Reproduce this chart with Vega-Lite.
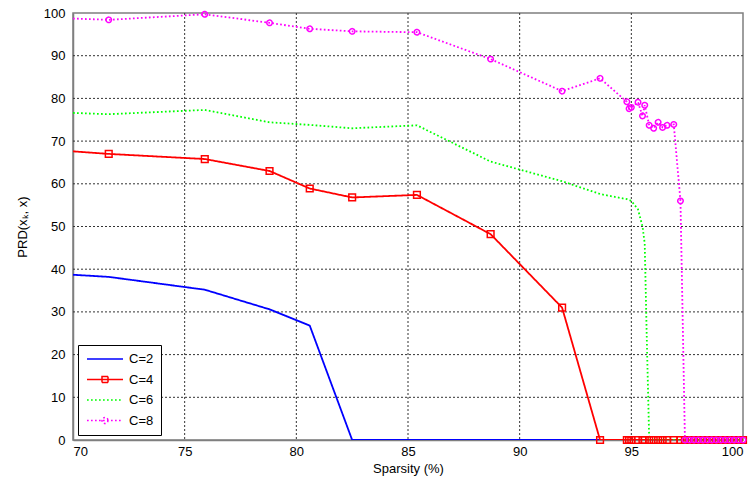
{
  "$schema": "https://vega.github.io/schema/vega-lite/v6.json",
  "width": 670,
  "height": 427,
  "autosize": {"type": "none"},
  "padding": {"left": 73, "top": 13, "right": 12, "bottom": 51},
  "background": "white",
  "datasets": {
    "gridx": [{"gx": 75}, {"gx": 80}, {"gx": 85}, {"gx": 90}, {"gx": 95}],
    "gridy": [{"gy": 10}, {"gy": 20}, {"gy": 30}, {"gy": 40}, {"gy": 50}, {"gy": 60}, {"gy": 70}, {"gy": 80}, {"gy": 90}],
    "prd": [
    {"s":"C=2","x":70,"y":38.7},{"s":"C=2","x":71.6,"y":38.2},{"s":"C=2","x":75.9,"y":35.2},{"s":"C=2","x":78.8,"y":30.6},{"s":"C=2","x":80.6,"y":26.8},{"s":"C=2","x":82.5,"y":0},{"s":"C=2","x":85.4,"y":0},{"s":"C=2","x":88.7,"y":0},{"s":"C=2","x":91.9,"y":0},{"s":"C=2","x":93.6,"y":0},{"s":"C=2","x":94.8,"y":0},{"s":"C=2","x":95.5,"y":0},{"s":"C=2","x":96.2,"y":0},{"s":"C=2","x":97.4,"y":0},{"s":"C=2","x":98.6,"y":0},{"s":"C=2","x":100,"y":0},
    {"s":"C=4","x":70,"y":67.6},{"s":"C=4","x":71.6,"y":67.0},{"s":"C=4","x":75.9,"y":65.8},{"s":"C=4","x":78.8,"y":63.0},{"s":"C=4","x":80.6,"y":58.9},{"s":"C=4","x":82.5,"y":56.8},{"s":"C=4","x":85.4,"y":57.4},{"s":"C=4","x":88.7,"y":48.2},{"s":"C=4","x":91.9,"y":31.0},{"s":"C=4","x":93.6,"y":0},{"s":"C=4","x":94.8,"y":0},{"s":"C=4","x":94.9,"y":0},{"s":"C=4","x":95.0,"y":0},{"s":"C=4","x":95.3,"y":0},{"s":"C=4","x":95.5,"y":0},{"s":"C=4","x":95.6,"y":0},{"s":"C=4","x":95.8,"y":0},{"s":"C=4","x":96.0,"y":0},{"s":"C=4","x":96.2,"y":0},{"s":"C=4","x":96.4,"y":0},{"s":"C=4","x":96.6,"y":0},{"s":"C=4","x":96.9,"y":0},{"s":"C=4","x":97.2,"y":0},{"s":"C=4","x":97.4,"y":0},{"s":"C=4","x":97.6,"y":0},{"s":"C=4","x":97.8,"y":0},{"s":"C=4","x":98.0,"y":0},{"s":"C=4","x":98.2,"y":0},{"s":"C=4","x":98.4,"y":0},{"s":"C=4","x":98.6,"y":0},{"s":"C=4","x":98.8,"y":0},{"s":"C=4","x":99.0,"y":0},{"s":"C=4","x":99.2,"y":0},{"s":"C=4","x":99.4,"y":0},{"s":"C=4","x":99.6,"y":0},{"s":"C=4","x":99.8,"y":0},{"s":"C=4","x":100,"y":0},
    {"s":"C=6","x":70,"y":76.6},{"s":"C=6","x":71.6,"y":76.3},{"s":"C=6","x":75.9,"y":77.3},{"s":"C=6","x":78.8,"y":74.4},{"s":"C=6","x":80.6,"y":73.8},{"s":"C=6","x":82.5,"y":73.0},{"s":"C=6","x":85.4,"y":73.7},{"s":"C=6","x":88.7,"y":65.2},{"s":"C=6","x":91.9,"y":60.6},{"s":"C=6","x":93.6,"y":57.6},{"s":"C=6","x":94.8,"y":56.4},{"s":"C=6","x":95.0,"y":56.0},{"s":"C=6","x":95.3,"y":54.0},{"s":"C=6","x":95.5,"y":50.0},{"s":"C=6","x":95.6,"y":46.0},{"s":"C=6","x":95.7,"y":22.0},{"s":"C=6","x":95.8,"y":0},{"s":"C=6","x":96.4,"y":0},{"s":"C=6","x":97.2,"y":0},{"s":"C=6","x":98.0,"y":0},{"s":"C=6","x":99.0,"y":0},{"s":"C=6","x":100,"y":0},
    {"s":"C=8","x":70,"y":98.7},{"s":"C=8","x":71.6,"y":98.4},{"s":"C=8","x":75.9,"y":99.7},{"s":"C=8","x":78.8,"y":97.7},{"s":"C=8","x":80.6,"y":96.3},{"s":"C=8","x":82.5,"y":95.7},{"s":"C=8","x":85.4,"y":95.5},{"s":"C=8","x":88.7,"y":89.2},{"s":"C=8","x":91.9,"y":81.7},{"s":"C=8","x":93.6,"y":84.7},{"s":"C=8","x":94.8,"y":79.2},{"s":"C=8","x":94.9,"y":77.6},{"s":"C=8","x":95.0,"y":77.9},{"s":"C=8","x":95.3,"y":79.1},{"s":"C=8","x":95.5,"y":75.9},{"s":"C=8","x":95.6,"y":78.4},{"s":"C=8","x":95.8,"y":73.7},{"s":"C=8","x":96.0,"y":73.0},{"s":"C=8","x":96.2,"y":74.4},{"s":"C=8","x":96.4,"y":73.2},{"s":"C=8","x":96.6,"y":73.7},{"s":"C=8","x":96.9,"y":73.9},{"s":"C=8","x":97.2,"y":56.0},{"s":"C=8","x":97.4,"y":0},{"s":"C=8","x":97.6,"y":0},{"s":"C=8","x":97.8,"y":0},{"s":"C=8","x":98.0,"y":0},{"s":"C=8","x":98.2,"y":0},{"s":"C=8","x":98.4,"y":0},{"s":"C=8","x":98.6,"y":0},{"s":"C=8","x":98.8,"y":0},{"s":"C=8","x":99.0,"y":0},{"s":"C=8","x":99.2,"y":0},{"s":"C=8","x":99.4,"y":0},{"s":"C=8","x":99.6,"y":0},{"s":"C=8","x":99.8,"y":0},{"s":"C=8","x":100,"y":0}
    ]
  },
  "layer": [
    {
      "data": {"name": "gridx"},
      "mark": {"type": "rule", "color": "#333333", "strokeDash": [2, 2], "strokeWidth": 1, "opacity": 1},
      "encoding": {
        "x": {"field": "gx", "type": "quantitative", "title": "Sparsity (%)",
          "scale": {"domain": [70, 100], "nice": false, "zero": false},
          "axis": {"values": [70, 75, 80, 85, 90, 95, 100], "labelPadding": 5, "titlePadding": 4}}
      }
    },
    {
      "data": {"name": "gridy"},
      "mark": {"type": "rule", "color": "#333333", "strokeDash": [2, 2], "strokeWidth": 1, "opacity": 1},
      "encoding": {
        "y": {"field": "gy", "type": "quantitative", "title": "PRD(xₖ, x)",
          "scale": {"domain": [0, 100], "nice": false},
          "axis": {"values": [0, 10, 20, 30, 40, 50, 60, 70, 80, 90, 100], "labelPadding": 8, "titlePadding": 14}}
      }
    },
    {
      "data": {"name": "prd"},
      "encoding": {
        "x": {"field": "x", "type": "quantitative", "title": "Sparsity (%)",
          "scale": {"domain": [70, 100], "nice": false, "zero": false},
          "axis": {"values": [70, 75, 80, 85, 90, 95, 100], "labelPadding": 5, "titlePadding": 4}},
        "y": {"field": "y", "type": "quantitative", "title": "PRD(xₖ, x)",
          "scale": {"domain": [0, 100], "nice": false},
          "axis": {"values": [0, 10, 20, 30, 40, 50, 60, 70, 80, 90, 100], "labelPadding": 8, "titlePadding": 14}},
        "color": {"field": "s", "type": "nominal",
          "scale": {"domain": ["C=2", "C=4", "C=6", "C=8"], "range": ["#0000ff", "#ff0000", "#00ff00", "#ff00ff"]},
          "legend": {"orient": "none", "legendX": 5, "legendY": 332, "title": null}},
        "strokeDash": {"field": "s", "type": "nominal",
          "scale": {"domain": ["C=2", "C=4", "C=6", "C=8"], "range": [[1, 0], [1, 0], [1.7, 2.3], [1.7, 2.3]]},
          "legend": {"orient": "none", "legendX": 5, "legendY": 332, "title": null}}
      },
      "layer": [
        {
          "mark": {"type": "line", "strokeWidth": 1.8, "clip": true}
        },
        {
          "transform": [{"filter": "datum.s === 'C=4' && datum.x > 70"}],
          "mark": {"type": "point", "shape": "square", "filled": false, "size": 45, "strokeWidth": 1.5, "opacity": 1},
          "encoding": {"strokeDash": {"value": [1, 0]}}
        },
        {
          "transform": [{"filter": "datum.s === 'C=8' && datum.x > 70"}],
          "mark": {"type": "point", "shape": "circle", "filled": false, "size": 30, "strokeWidth": 1.5, "opacity": 1},
          "encoding": {"strokeDash": {"value": [1, 0]}}
        },
        {
          "mark": {"type": "point", "filled": false, "size": 144, "strokeWidth": 1.5, "opacity": 0},
          "encoding": {
            "shape": {"field": "s", "type": "nominal",
              "scale": {"domain": ["C=2", "C=4", "C=6", "C=8"],
                "range": ["M-3,0H3", "M-3,0H3M-0.5,-0.5H0.5V0.5H-0.5Z", "M-3,0H3", "M-3,0H3M0.5,0A0.5,0.5 0 1,1 -0.5,0A0.5,0.5 0 1,1 0.5,0Z"]},
              "legend": {"orient": "none", "legendX": 5, "legendY": 332, "title": null}}
          }
        }
      ]
    }
  ],
  "config": {
    "view": {"stroke": "#7f7f7f", "strokeWidth": 1.5},
    "axis": {
      "domainColor": "#7f7f7f", "domainWidth": 1.5,
      "grid": false, "ticks": false,
      "labelFont": "Liberation Sans", "labelFontSize": 13, "labelColor": "#000000",
      "titleFont": "Liberation Sans", "titleFontSize": 13, "titleFontWeight": "normal", "titleColor": "#000000"
    },
    "legend": {
      "strokeColor": "#000000", "fillColor": "#ffffff", "padding": 7,
      "labelFont": "Liberation Sans", "labelFontSize": 13, "labelColor": "#000000",
      "symbolSize": 144, "symbolStrokeWidth": 1.5, "rowPadding": 6.5, "symbolOffset": 13, "labelOffset": 17
    }
  }
}
